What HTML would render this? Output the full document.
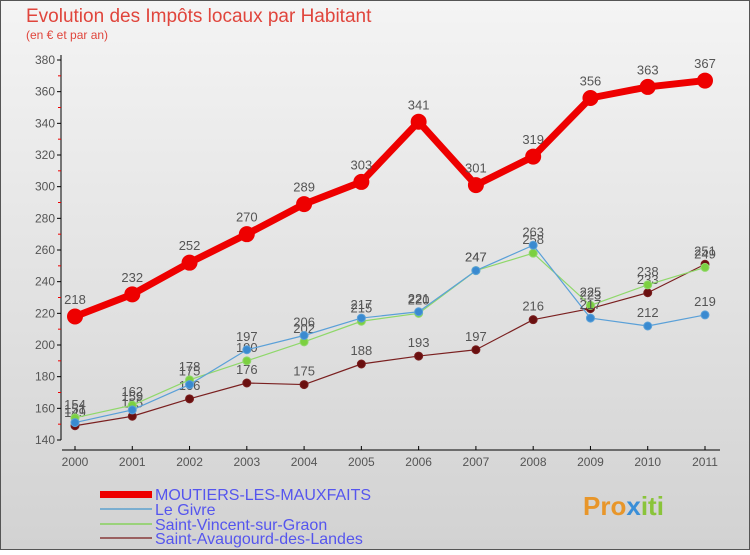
<!DOCTYPE html>
<html><head><meta charset="utf-8"><style>
body{margin:0;width:750px;height:550px;overflow:hidden;font-family:"Liberation Sans",sans-serif}
</style></head><body>
<svg id="c" width="750" height="550" xmlns="http://www.w3.org/2000/svg">
<defs><linearGradient id="bg" x1="0" y1="0" x2="0" y2="1"><stop offset="0" stop-color="#f4f4f4"/><stop offset="1" stop-color="#d2d2d2"/></linearGradient></defs>
<rect x="0.5" y="0.5" width="749" height="549" fill="url(#bg)" stroke="#555"/>
<text x="26" y="22" font-size="19" fill="#e0453c">Evolution des Impôts locaux par Habitant</text>
<text x="26" y="39" font-size="12" fill="#e0453c">(en € et par an)</text>
<g id="axes"></g><g id="series"></g>
<g>
<rect x="100" y="491" width="52" height="7" fill="#e00"/>
<text x="155" y="500" font-size="16" fill="#5555ee">MOUTIERS-LES-MAUXFAITS</text>
<rect x="100" y="508" width="52" height="2" fill="#7aaed0"/>
<text x="155" y="515" font-size="16" fill="#5555ee">Le Givre</text>
<rect x="100" y="523" width="52" height="2" fill="#9ad27a"/>
<text x="155" y="530" font-size="16" fill="#5555ee">Saint-Vincent-sur-Graon</text>
<rect x="100" y="537" width="52" height="2" fill="#9a6060"/>
<text x="155" y="544" font-size="16" fill="#5555ee">Saint-Avaugourd-des-Landes</text>
</g>
<text x="583" y="515" font-size="26" font-weight="bold" fill="#e8962a">Pro<tspan fill="#3a8fd8">x</tspan><tspan fill="#8ac43a">iti</tspan></text>
</svg>
<script>
const years=[2000,2001,2002,2003,2004,2005,2006,2007,2008,2009,2010,2011];
const moutiers=[218,232,252,270,289,303,341,301,319,356,363,367];
const givre=[151,159,175,197,206,217,221,247,263,217,212,219];
const vincent=[154,162,178,190,202,215,220,247,258,225,238,249];
const avaugourd=[149,155,166,176,175,188,193,197,216,223,233,251];
const yTicks=[140,160,180,200,220,240,260,280,300,320,340,360,380];
const NS="http://www.w3.org/2000/svg";
const x=i=>75+i*(630/11);
const y=v=>440-(v-140)*(380/240);
function mk(t,a,p){const e=document.createElementNS(NS,t);for(const k in a)e.setAttribute(k,a[k]);p.appendChild(e);return e;}
const ax=document.getElementById('axes');
let l=mk('line',{x1:61,y1:55,x2:61,y2:440,stroke:'#000'},ax);

l=mk('line',{x1:62,y1:450,x2:720,y2:450,stroke:'#000'},ax);

yTicks.forEach((v,i)=>{
  mk('line',{x1:57,y1:y(v),x2:61,y2:y(v),stroke:'#000'},ax);
  if(i<yTicks.length-1)mk('line',{x1:58,y1:y(v+10),x2:61,y2:y(v+10),stroke:'#e00'},ax);
  const t=mk('text',{x:55,y:y(v)+4,'font-size':12,fill:'#555','text-anchor':'end'},ax);t.textContent=v;
  
});
years.forEach((yr,i)=>{
  mk('line',{x1:x(i),y1:446,x2:x(i),y2:450,stroke:'#000'},ax);
  const t=mk('text',{x:x(i),y:466,'font-size':12,fill:'#555','text-anchor':'middle'},ax);t.textContent=yr;
  
});
const sg=document.getElementById('series');
function draw(data,color,w,r,name,dot){
  const g=mk('g',{},sg);
  
  const p=mk('polyline',{points:data.map((v,i)=>x(i)+','+y(v)).join(' '),fill:'none',stroke:color,'stroke-width':w,'stroke-linejoin':'round'},g);
  
  data.forEach((v,i)=>{
    const c=mk('circle',{cx:x(i),cy:y(v),r:r,fill:dot,stroke:color,'stroke-width':1},g);
    
    const t=mk('text',{x:x(i),y:y(v)-(r+5),'font-size':13,fill:'#555','text-anchor':'middle'},g);t.textContent=v;
    
  });
}
draw(avaugourd,'#7a2020',1.2,4,'avaugourd','#6a1010');
draw(vincent,'#8fd86a',1.2,4,'vincent','#7cd040');
draw(givre,'#5aa0d8',1.2,4,'givre','#3a8ad0');
draw(moutiers,'#ee0000',7,7.5,'moutiers','#ee0000');
</script>
</body></html>
